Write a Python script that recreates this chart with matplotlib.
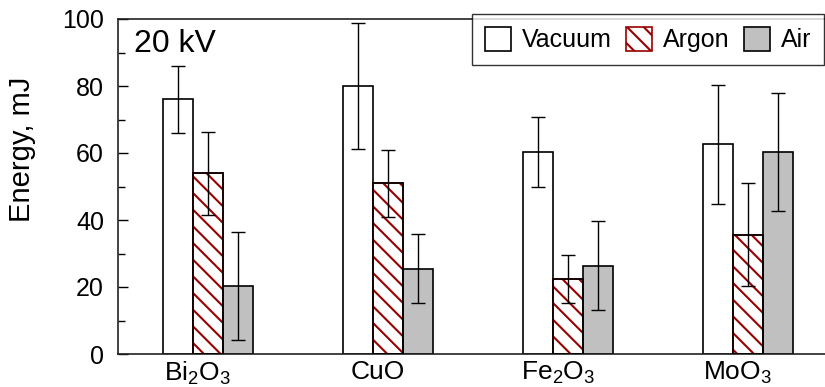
import matplotlib
matplotlib.use("Agg")
import matplotlib.pyplot as plt
import matplotlib.transforms as mtransforms
import numpy as np

# ---- data ----
materials = [r"Bi$_2$O$_3$", "CuO", r"Fe$_2$O$_3$", r"MoO$_3$"]
vacuum = [76.0, 80.0, 60.4, 62.6]
vacuum_err = [10.0, 18.9, 10.4, 17.8]
argon = [53.9, 51.0, 22.3, 35.6]
argon_err = [12.4, 10.0, 7.2, 15.4]
air = [20.3, 25.5, 26.3, 60.2]
air_err = [16.1, 10.2, 13.3, 17.6]
series_names = ["Vacuum", "Argon", "Air"]
yticks = [0, 20, 40, 60, 80, 100]

plt.rcParams["font.family"] = ["Liberation Sans", "DejaVu Sans"]
plt.rcParams["mathtext.fontset"] = "custom"
plt.rcParams["mathtext.rm"] = "Liberation Sans"
plt.rcParams["mathtext.it"] = "Liberation Sans:italic"
plt.rcParams["mathtext.default"] = "regular"
plt.rcParams["hatch.linewidth"] = 1.5

fig = plt.figure(figsize=(8.25, 3.87), dpi=100)
ax = fig.add_axes([118/825, 1-354/387, 1-118/825, (354-19)/387])

x = np.arange(len(materials))
w = 1/6
ekw = dict(ecolor="black", elinewidth=1.0, capsize=5.2, capthick=1.0)

ax.bar(x - w, vacuum, w, color="white", edgecolor="black", linewidth=1.2,
       label=series_names[0], zorder=2)
ax.bar(x, argon, w, color="white", edgecolor="#990000", hatch="\\\\",
       linewidth=1.2, label=series_names[1], zorder=2)
ax.bar(x, argon, w, fill=False, edgecolor="black", linewidth=1.2, zorder=3)
ax.bar(x + w, air, w, color="#c0c0c0", edgecolor="black", linewidth=1.2,
       label=series_names[2], zorder=2)

ax.errorbar(x - w, vacuum, yerr=vacuum_err, fmt="none", zorder=4, **ekw)
ax.errorbar(x, argon, yerr=argon_err, fmt="none", zorder=4, **ekw)
ax.errorbar(x + w, air, yerr=air_err, fmt="none", zorder=4, **ekw)

ax.set_xlim(-0.5, 3.43)
ax.set_ylim(0, 100)
ax.set_yticks(yticks)
ax.set_yticks(np.arange(10, 100, 20), minor=True)
ax.set_xticks(x)
ax.set_xticklabels(materials)
ax.tick_params(axis="y", which="major", direction="in", length=7.2, width=1.0,
               labelsize=18, pad=10)
ax.tick_params(axis="y", which="minor", direction="in", length=5, width=1.0)
ax.tick_params(axis="x", length=0, labelsize=19, pad=4)
shift = mtransforms.ScaledTranslation(-10/100, 0, fig.dpi_scale_trans)
for lab in ax.get_xticklabels():
    lab.set_transform(lab.get_transform() + shift)
ax.spines["right"].set_visible(False)
for s in ["left", "top", "bottom"]:
    ax.spines[s].set_linewidth(1.2)
    ax.spines[s].set_color("#222222")

fig.text(22/825, 1-149/387, "Energy, mJ", rotation=90, ha="center",
         va="center", fontsize=21)
fig.text(134/825, 1-52/387, "20 kV", ha="left", va="baseline", fontsize=23)

leg = fig.legend(loc="upper right", bbox_to_anchor=(824/825, 1-14/387),
                 ncol=3, fontsize=18, frameon=True, fancybox=False,
                 handlelength=1.05, handleheight=1.15, handletextpad=0.45,
                 columnspacing=0.55, borderpad=0.5, borderaxespad=0)
leg.get_frame().set_edgecolor("black")
leg.get_frame().set_linewidth(1.0)

fig.savefig("out.png", dpi=100)
